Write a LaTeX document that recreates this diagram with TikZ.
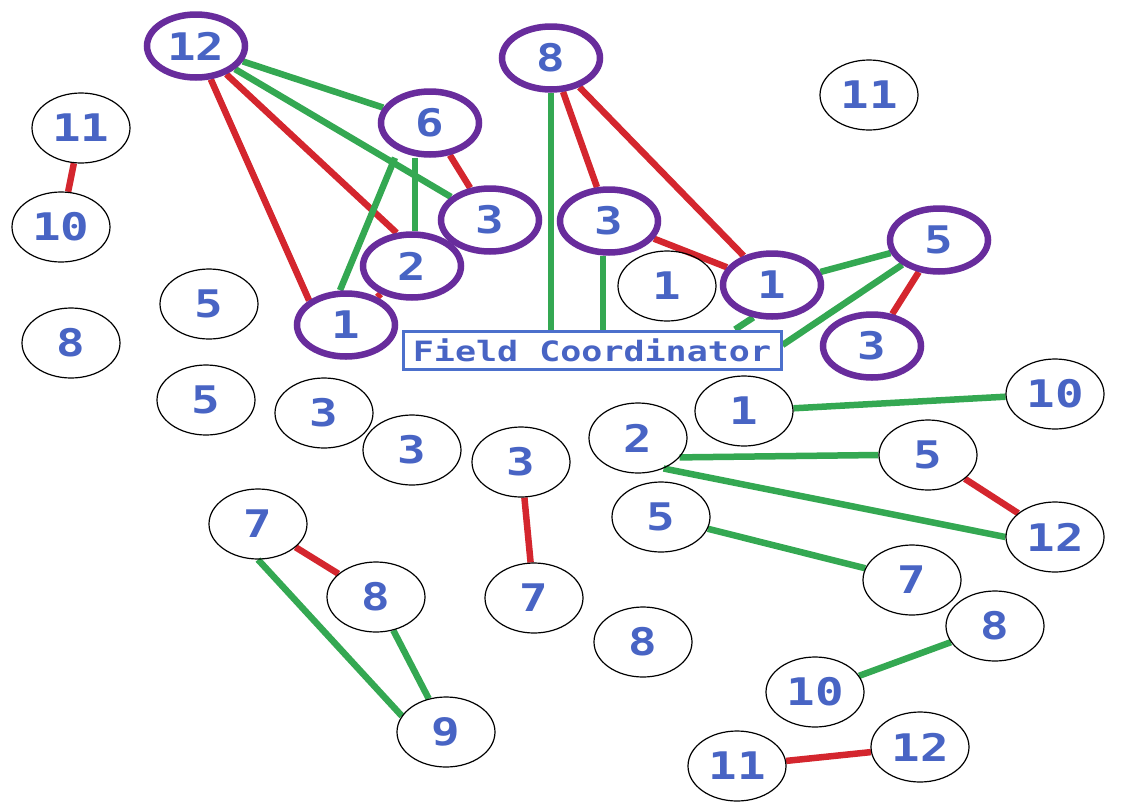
\documentclass[tikz,border=0pt]{standalone}
\usepackage{fontspec}
\newfontfamily\labelfont{DejaVu Sans Mono}[FakeStretch=1.25]
\usetikzlibrary{shapes.geometric,backgrounds}
\definecolor{numblue}{RGB}{72,100,196}
\definecolor{boxblue}{RGB}{76,112,204}
\definecolor{leadpurple}{RGB}{104,44,156}
\definecolor{linkgreen}{RGB}{52,168,82}
\definecolor{linkred}{RGB}{212,38,46}
\begin{document}
\begin{tikzpicture}[x=1pt,y=-1pt,
  plain/.style={ellipse, draw=black, line width=1.2pt, minimum width=98pt,
    minimum height=70pt, inner sep=0pt, text=numblue,
    font=\labelfont\bfseries\fontsize{38}{38}\selectfont},
  lead/.style={plain, draw=leadpurple, line width=6.5pt,
    minimum width=98pt, minimum height=63pt},
  coord/.style={rectangle, draw=boxblue, line width=3pt, fill=white,
    minimum width=378pt, minimum height=38pt, inner sep=0pt, text=numblue,
    font=\labelfont\bfseries\fontsize{28}{28}\selectfont},
  ok/.style={draw=linkgreen, line width=6.5pt},
  bad/.style={draw=linkred, line width=6.5pt},
]
\useasboundingbox (0,0) rectangle (1141,801);

% leaders (thick purple rings)
\node[lead] (P12) at (196,46)  {12};
\node[lead] (P6)  at (430,123) {6};
\node[lead] (P3a) at (490,220) {3};
\node[lead] (P2)  at (412,266) {2};
\node[lead] (P1a) at (346,325) {1};
\node[lead] (P8)  at (551,58)  {8};
\node[lead] (P3b) at (609,221) {3};
\node[lead] (P1b) at (772,285) {1};
\node[lead] (P5)  at (939,240) {5};
\node[lead] (P3c) at (872,346) {3};

% coordinator box
\node[coord] (fc) at (592,350) {Field Coordinator};

% ordinary members
\node[plain] (a11) at (81,128)  {11};
\node[plain] (a10) at (61,227)  {10};
\node[plain] (a5)  at (209,304) {5};
\node[plain] (a8)  at (71,343)  {8};
\node[plain] (b5)  at (206,400) {5};
\node[plain] (b3)  at (324,413) {3};
\node[plain] (c3)  at (412,450) {3};
\node[plain] (d3)  at (521,462) {3};
\node[plain] (e7)  at (258,524) {7};
\node[plain] (e8)  at (376,597) {8};
\node[plain] (f7)  at (534,598) {7};
\node[plain] (e9)  at (446,732) {9};
\node[plain] (t11) at (869,95)  {11};
\node[plain] (m1)  at (667,286) {1};
\node[plain] (r1)  at (744,411) {1};
\node[plain] (r10) at (1055,394) {10};
\node[plain] (r2)  at (638,438) {2};
\node[plain] (r5)  at (928,455) {5};
\node[plain] (r12) at (1055,537) {12};
\node[plain] (s5)  at (661,517) {5};
\node[plain] (s7)  at (912,580) {7};
\node[plain] (s8)  at (995,626) {8};
\node[plain] (g8)  at (643,642) {8};
\node[plain] (s10) at (815,692) {10};
\node[plain] (s12) at (920,747) {12};
\node[plain] (s11) at (737,766) {11};

\begin{pgfonlayer}{background}
  \fill[white] (0,0) rectangle (1141,801);
  % upper-left cluster
  \draw[bad] (P12) -- (P1a.north west);
  \draw[bad] (P12) -- (P2.115);
  \draw[ok]  (P12) -- (P6);
  \draw[ok]  (P12) -- (P3a);
  \draw[ok]  ([xshift=-35pt]P6.south) -- ([xshift=-6pt]P1a.north);
  \draw[ok]  ([xshift=-15pt]P6.south) -- ([xshift=-15pt]P6.south |- P2.north);
  \draw[bad] (P6) -- (P3a);
  \draw[bad] (P2) -- (P1a);
  % upper-right cluster
  \draw[ok]  (P8.south) -- (P8.south |- fc.north);
  \draw[ok]  ([xshift=-6pt]P3b.south) -- ([xshift=-6pt]P3b.south |- fc.north);
  \draw[bad] (P8) -- (P3b);
  \draw[bad] (P8) -- (P1b);
  \draw[bad] (P3b) -- (P1b);
  \draw[ok]  (P1b) -- (P5);
  \draw[bad] (P5) -- (P3c);
  \draw[ok]  (P5) -- ([yshift=5pt]fc.east);
  \draw[ok]  (P1b.240) -- ([xshift=143pt]fc.north);
  % lower links
  \draw[bad] (a11) -- (a10);
  \draw[ok]  (r1) -- (r10);
  \draw[ok]  (r2.-25) -- (r5.west);
  \draw[ok]  (r2.-50) -- (r12.west);
  \draw[bad] (r5) -- (r12);
  \draw[ok]  (s5) -- (s7);
  \draw[ok]  (s8) -- (s10);
  \draw[bad] (s11) -- (s12);
  \draw[bad] (e7) -- (e8);
  \draw[ok]  (e7.south) -- (e9.160);
  \draw[ok]  (e8) -- (e9);
  \draw[bad] (d3) -- (f7);
\end{pgfonlayer}
\end{tikzpicture}
\end{document}
